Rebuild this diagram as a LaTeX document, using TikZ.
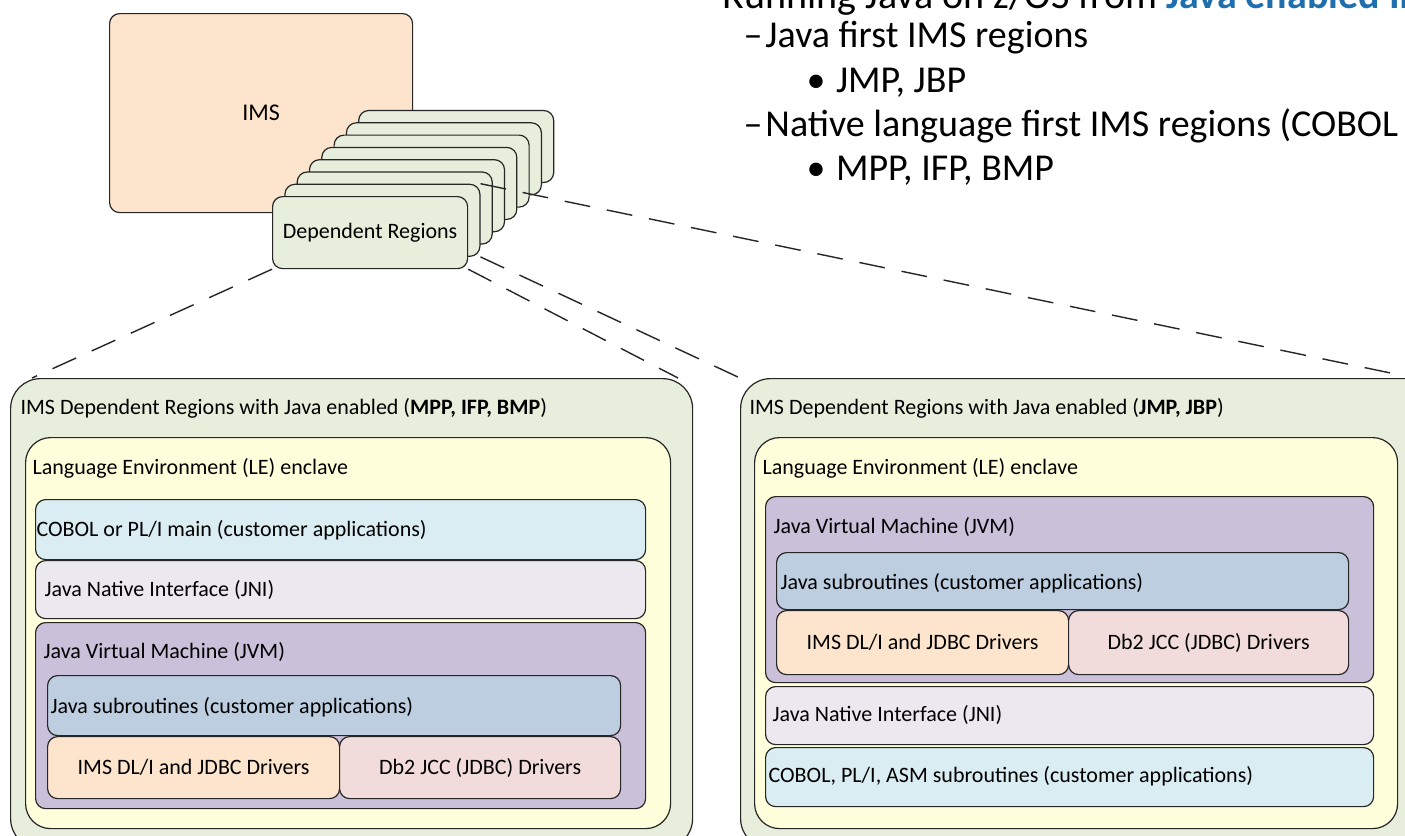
\documentclass[tikz,border=0pt]{standalone}
\usepackage{fontspec}
\setmainfont{Carlito}
\usepackage{tikz}
\usetikzlibrary{positioning}

\definecolor{imspeach}{HTML}{FDE4CC}
\definecolor{regiongreen}{HTML}{E7EEDB}
\definecolor{leyellow}{HTML}{FFFFDC}
\definecolor{cobolblue}{HTML}{DAEDF3}
\definecolor{jnigrey}{HTML}{ECE8F0}
\definecolor{jvmpurple}{HTML}{CBC0DA}
\definecolor{jsubblue}{HTML}{BCCEE0}
\definecolor{dbpink}{HTML}{F2DCDB}
\definecolor{ibmblue}{HTML}{1F6FAE}

\newcommand{\boxfont}{\fontsize{22}{26}\selectfont}
\newcommand{\slidefont}{\fontsize{38}{44}\selectfont}

\begin{document}
\begin{tikzpicture}[x=1pt,y=-1pt,line width=1.2pt,
  box/.style={draw=black!85,rounded corners=10pt,inner sep=0pt,anchor=north west},
  lbl/.style={inner sep=0pt,anchor=west,font=\boxfont},
  mid/.style={inner sep=0pt,font=\boxfont},
  bullet/.style={inner sep=0pt,anchor=base west,font=\slidefont},
  link/.style={draw=black!85,line width=1.4pt,dash pattern=on 26pt off 17pt}]
  \useasboundingbox (0,0) rectangle (1405,835);
  \clip (0,0) rectangle (1405,835);

  % slide text
  \node[bullet,font=\fontsize{40}{46}\selectfont] (head) at (722,9)
    {Running Java on z/OS from \textcolor{ibmblue}{\textbf{Java enabled IMS}}};
  \node[bullet] (javafirst) at (743,47) {–\hspace{3pt}Java first IMS regions};
  \node[bullet] (jmp) at (806,92) {•\hspace{2pt} JMP, JBP};
  \node[bullet] (nativefirst) at (743,136) {–\hspace{3pt}Native language first IMS regions (COBOL};
  \node[bullet] (mpp) at (806,180) {•\hspace{2pt} MPP, IFP, BMP};

  % IMS and its dependent regions
  \node[box,fill=imspeach,minimum width=303pt,minimum height=199pt,font=\fontsize{24}{28}\selectfont] (ims) at (109,13) {IMS};
  \foreach \i in {7,...,0}
    \node[box,fill=regiongreen,minimum width=195pt,minimum height=72pt] (dep\i) at (272+12.3*\i,196-12.3*\i) {};
  \node[mid] (deptext) at (dep0.center) {Dependent Regions};

  % left region: MPP, IFP, BMP
  \node[box,fill=regiongreen,rounded corners=30pt,minimum width=682pt,minimum height=470pt] (lpanel) at (10,378) {};
  \node[lbl] (lpaneltext) at (20,408) {IMS Dependent Regions with Java enabled (\textbf{MPP, IFP, BMP})};
  \node[box,fill=leyellow,rounded corners=25pt,minimum width=645pt,minimum height=391pt] (lle) at (25,437) {};
  \node[lbl] (lletext) at (32,468) {Language Environment (LE) enclave};
  \node[box,fill=cobolblue,minimum width=610pt,minimum height=60pt] (lcobol) at (35,499) {};
  \node[lbl] (lcoboltext) at (36,530) {COBOL or PL/I main (customer applications)};
  \node[box,fill=jnigrey,minimum width=610pt,minimum height=58pt] (ljni) at (35,560) {};
  \node[lbl] (ljnitext) at (44,590) {Java Native Interface (JNI)};
  \node[box,fill=jvmpurple,minimum width=610pt,minimum height=186pt] (ljvm) at (35,622) {};
  \node[lbl] (ljvmtext) at (43,652) {Java Virtual Machine (JVM)};
  \node[box,fill=jsubblue,minimum width=573pt,minimum height=60pt] (ljsub) at (47,675) {};
  \node[lbl] (ljsubtext) at (50,707) {Java subroutines (customer applications)};
  \node[box,fill=imspeach,minimum width=292pt,minimum height=62pt] (ldli) at (47,736) {};
  \node[mid] (ldlitext) at (ldli.center) {IMS DL/I and JDBC Drivers};
  \node[box,fill=dbpink,minimum width=281pt,minimum height=62pt] (ldb) at (339,736) {};
  \node[mid] (ldbtext) at (ldb.center) {Db2 JCC (JDBC) Drivers};

  % right region: JMP, JBP
  \node[box,fill=regiongreen,rounded corners=30pt,minimum width=700pt,minimum height=470pt] (rpanel) at (740,378) {};
  \node[lbl] (rpaneltext) at (749,408) {IMS Dependent Regions with Java enabled (\textbf{JMP, JBP})};
  \node[box,fill=leyellow,rounded corners=25pt,minimum width=643pt,minimum height=391pt] (rle) at (754,437) {};
  \node[lbl] (rletext) at (762,468) {Language Environment (LE) enclave};
  \node[box,fill=jvmpurple,minimum width=608pt,minimum height=186pt] (rjvm) at (765,496) {};
  \node[lbl] (rjvmtext) at (773,527) {Java Virtual Machine (JVM)};
  \node[box,fill=jsubblue,minimum width=572pt,minimum height=57pt] (rjsub) at (776,552) {};
  \node[lbl] (rjsubtext) at (780,583) {Java subroutines (customer applications)};
  \node[box,fill=imspeach,minimum width=292pt,minimum height=64pt] (rdli) at (776,610) {};
  \node[mid] (rdlitext) at (rdli.center) {IMS DL/I and JDBC Drivers};
  \node[box,fill=dbpink,minimum width=280pt,minimum height=64pt] (rdb) at (1068,610) {};
  \node[mid] (rdbtext) at (rdb.center) {Db2 JCC (JDBC) Drivers};
  \node[box,fill=jnigrey,minimum width=608pt,minimum height=58pt] (rjni) at (765,686) {};
  \node[lbl] (rjnitext) at (772,715) {Java Native Interface (JNI)};
  \node[box,fill=cobolblue,minimum width=608pt,minimum height=59pt] (rcobol) at (765,747) {};
  \node[lbl] (rcoboltext) at (768,776) {COBOL, PL/I, ASM subroutines (customer applications)};

  % zoom lines
  \coordinate (lcorner) at (32,378);
  \coordinate (rcorner) at (678,378);
  \coordinate (farcorner) at (1405,376);
  \draw[link] (dep0.south west) -- (lcorner);
  \draw[link] (dep0.south east) -- (rcorner);
  \draw[link] (dep1.south east) -- (rpanel.north west);
  \draw[link] (dep1.north east) -- (farcorner);
\end{tikzpicture}
\end{document}
